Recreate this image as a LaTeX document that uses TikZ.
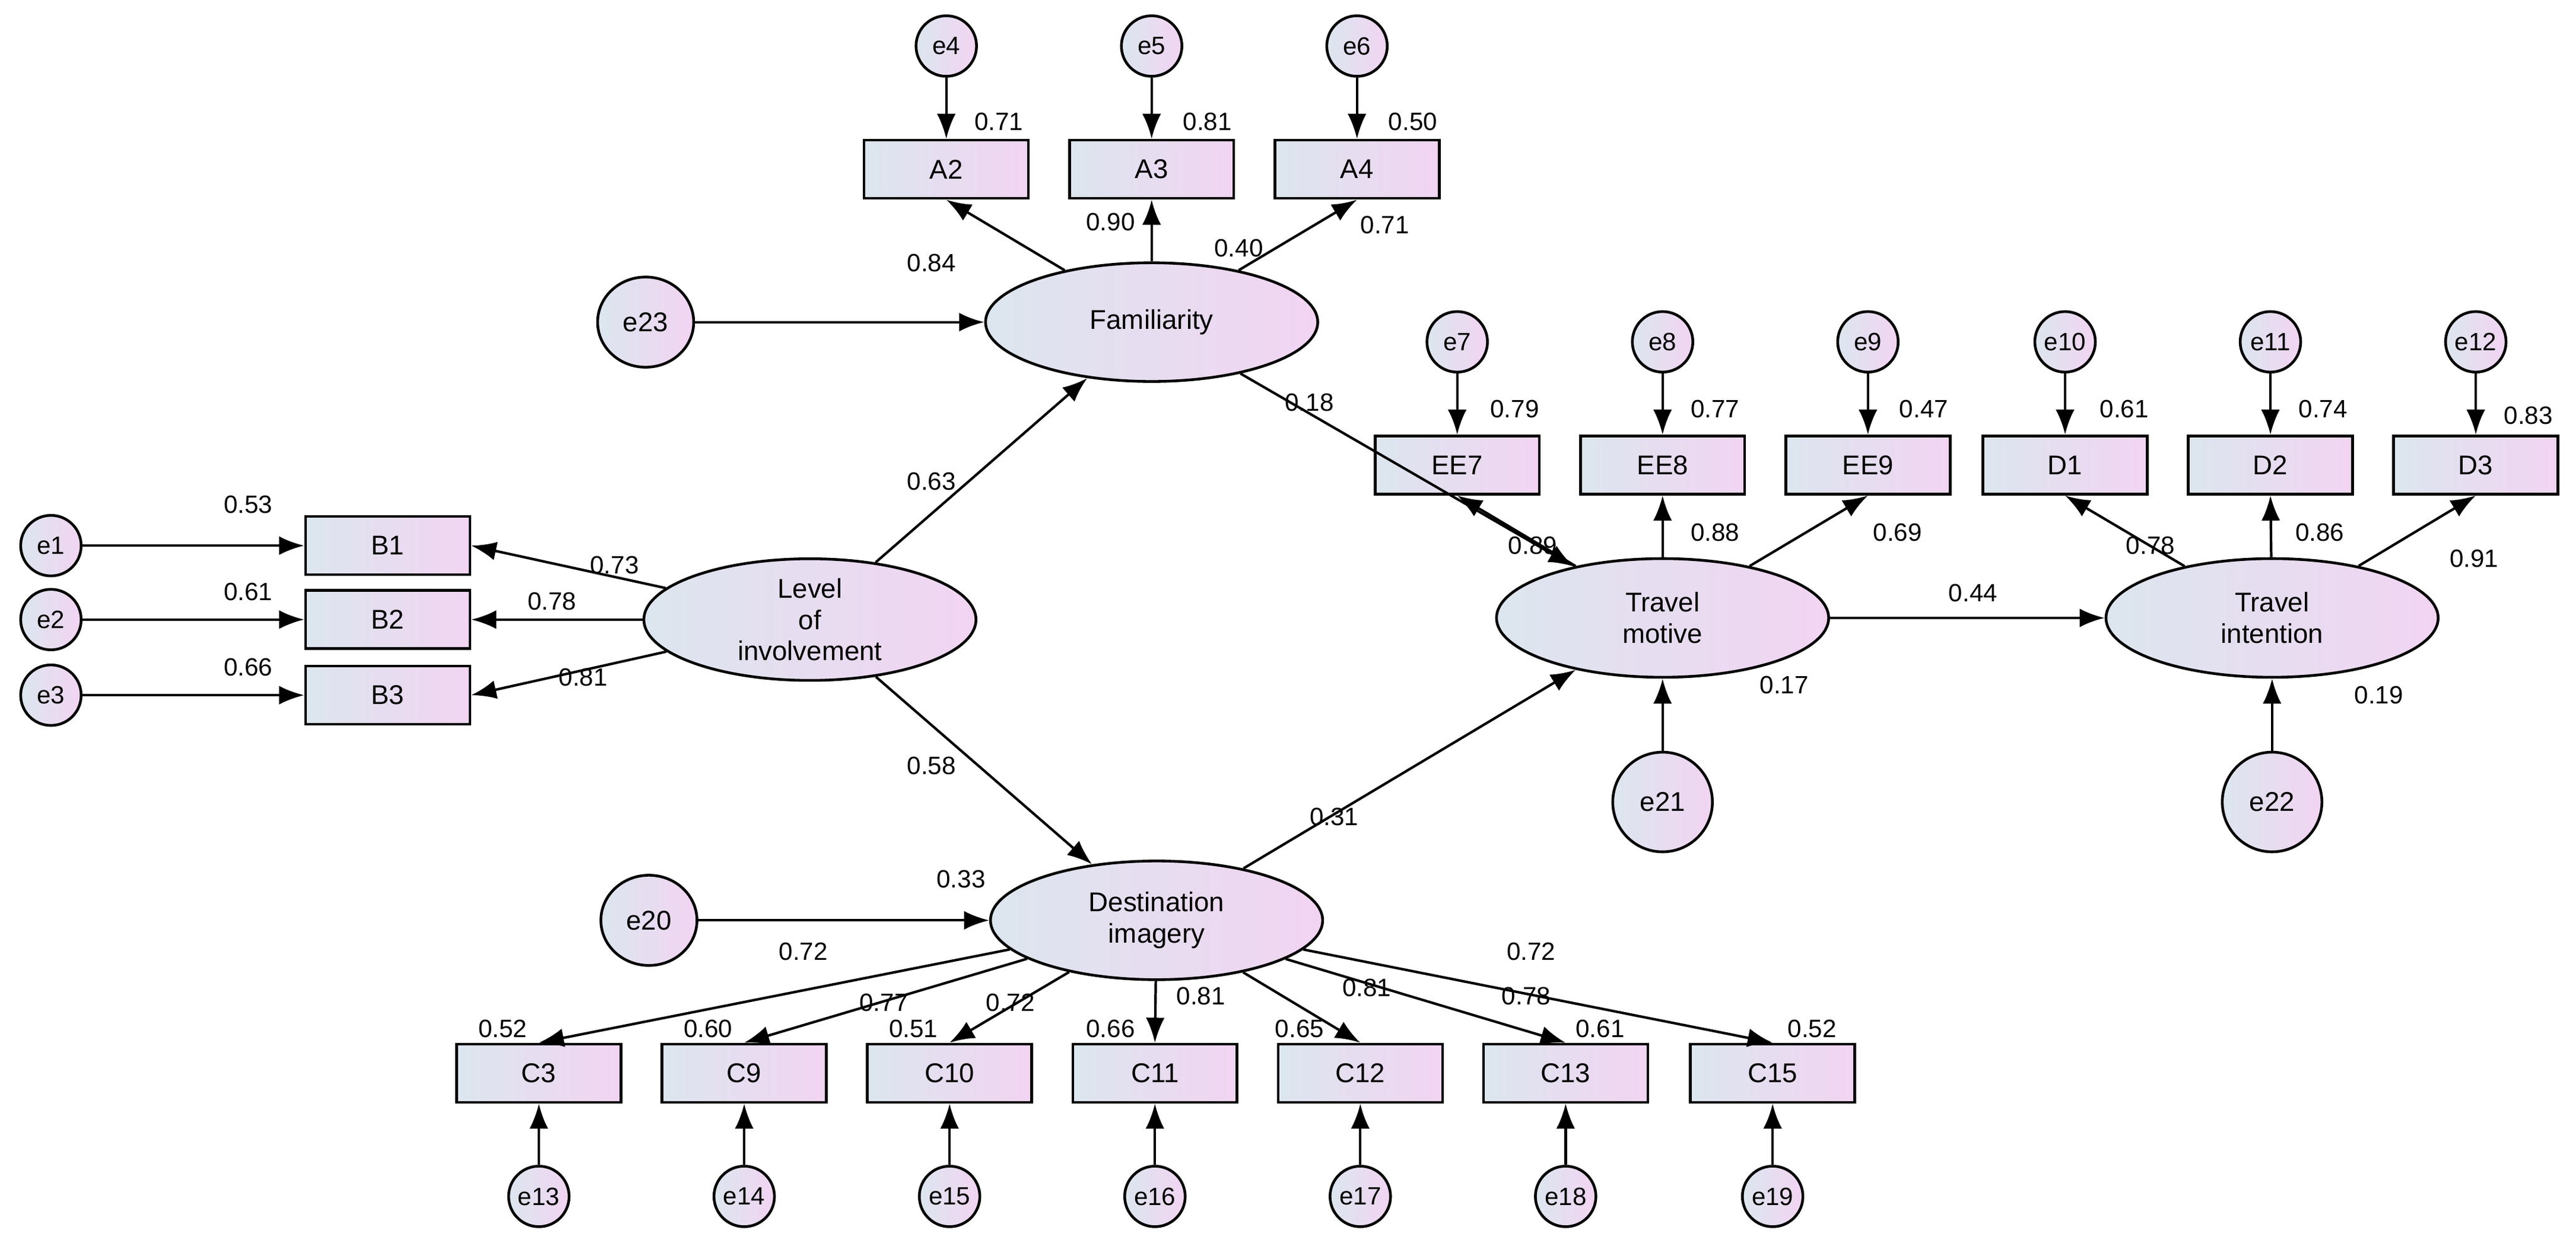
\documentclass[tikz,border=0pt]{standalone}
\usepackage{fontspec}
\setmainfont{Liberation Sans}
\usetikzlibrary{shapes.geometric,arrows.meta}
\definecolor{cl}{HTML}{DCE6EE}
\definecolor{cr}{HTML}{F2D4F2}
\begin{document}
\begin{tikzpicture}[x=0.02769cm,y=-0.02769cm,
 font=\fontsize{12}{14}\selectfont,
 sh/.style={draw,line width=1.3pt,left color=cl,right color=cr},
 box/.style={sh,rectangle,minimum width=2.77cm,minimum height=0.98cm,inner sep=0pt,font=\fontsize{13}{15}\selectfont},
 err/.style={sh,circle,minimum size=1.02cm,inner sep=0pt},
 berr/.style={sh,ellipse,minimum width=1.62cm,minimum height=1.52cm,inner sep=0pt,font=\fontsize{13}{15}\selectfont},
 lat/.style={sh,ellipse,minimum width=5.6cm,minimum height=2.0cm,inner sep=0pt,align=center,font=\fontsize{13}{15}\selectfont},
 ar/.style={-{Latex[length=12pt,width=9pt]},line width=1.2pt},
 lb/.style={inner sep=0pt}]
\useasboundingbox (0,0) rectangle (1568,758);
% latent
\node[lat] (F) at (701,196) {Familiarity};
\node[lat,minimum height=2.05cm] (L) at (493,377) {Level\\of\\involvement};
\node[lat] (D) at (704,560) {Destination\\imagery};
\node[lat] (TM) at (1012,376) {Travel\\motive};
\node[lat] (TI) at (1383,376) {Travel\\intention};
% boxes
\foreach \n/\x/\y in {A2/576/103,A3/701/103,A4/826/103,B1/236/332,B2/236/377,B3/236/423,
 EE7/887/283,EE8/1012/283,EE9/1137/283,D1/1257/283,D2/1382/283,D3/1507/283,
 C3/328/653,C9/453/653,C10/578/653,C11/703/653,C12/828/653,C13/953/653,C15/1079/653}
 \node[box] (\n) at (\x,\y) {\n};
% small errors
\foreach \n/\x/\y in {e4/576/28,e5/701/28,e6/826/28,e1/31/332,e2/31/377,e3/31/423,
 e7/887/208,e8/1012/208,e9/1137/208,e10/1257/208,e11/1382/208,e12/1507/208,
 e13/328/728,e14/453/728,e15/578/728,e16/703/728,e17/828/728,e18/953/728,e19/1079/728}
 \node[err] (\n) at (\x,\y) {\n};
\node[berr] (e23) at (393,196) {e23};
\node[berr] (e20) at (395,560) {e20};
\node[berr,minimum width=1.68cm,minimum height=1.68cm] (e21) at (1012,488) {e21};
\node[berr,minimum width=1.68cm,minimum height=1.68cm] (e22) at (1383,488) {e22};
% error arrows
\foreach \e/\b in {e4/A2,e5/A3,e6/A4,e7/EE7,e8/EE8,e9/EE9,e10/D1,e11/D2,e12/D3}
 \draw[ar] (\e) -- (\b);
\foreach \e/\b in {e1/B1,e2/B2,e3/B3,e23/F,e20/D}
 \draw[ar] (\e) -- (\b);
\foreach \e/\b in {e13/C3,e14/C9,e15/C10,e16/C11,e17/C12,e18/C13,e19/C15,e21/TM,e22/TI}
 \draw[ar] (\e) -- (\b);
% loadings
\foreach \b in {A2,A3,A4} \draw[ar] (F) -- (\b.south);
\foreach \b in {B1,B2,B3} \draw[ar] (L) -- (\b.east);
\foreach \b in {EE7,EE8,EE9} \draw[ar] (TM) -- (\b.south);
\foreach \b in {D1,D2,D3} \draw[ar] (TI) -- (\b.south);
\foreach \b in {C3,C9,C10,C11,C12,C13,C15} \draw[ar] (D) -- (\b.north);
% structural
\draw[ar] (L) -- (F);
\draw[ar] (L) -- (D);
\draw[ar] (F) -- (TM);
\draw[ar] (D) -- (TM);
\draw[ar] (TM) -- (TI);
% labels
\foreach \t/\x/\y in {0.71/608/74,0.81/735/74,0.50/860/74,0.84/567/160,0.90/676/135,0.40/754/151,
 0.71/843/137,0.18/797/245,0.63/567/293,0.58/567/466,0.53/151/307,0.61/151/360,0.66/151/406,
 0.73/374/344,0.78/336/366,0.81/355/412,
 0.79/922/249,0.77/1044/249,0.47/1171/249,0.61/1293/249,0.74/1414/249,0.83/1539/253,
 0.89/933/332,0.88/1044/324,0.69/1155/324,0.78/1309/332,0.86/1412/324,0.91/1506/340,
 0.44/1201/361,0.17/1086/417,0.19/1448/423,0.31/812/497,
 0.33/585/535,0.72/489/579,0.77/538/610,0.72/615/610,0.81/731/606,0.81/832/601,0.78/929/606,0.72/932/579,
 0.52/306/626,0.60/431/626,0.51/556/626,0.66/676/626,0.65/791/626,0.61/974/626,0.52/1103/626}
 \node[lb] at (\x,\y) {\t};
\end{tikzpicture}
\end{document}
